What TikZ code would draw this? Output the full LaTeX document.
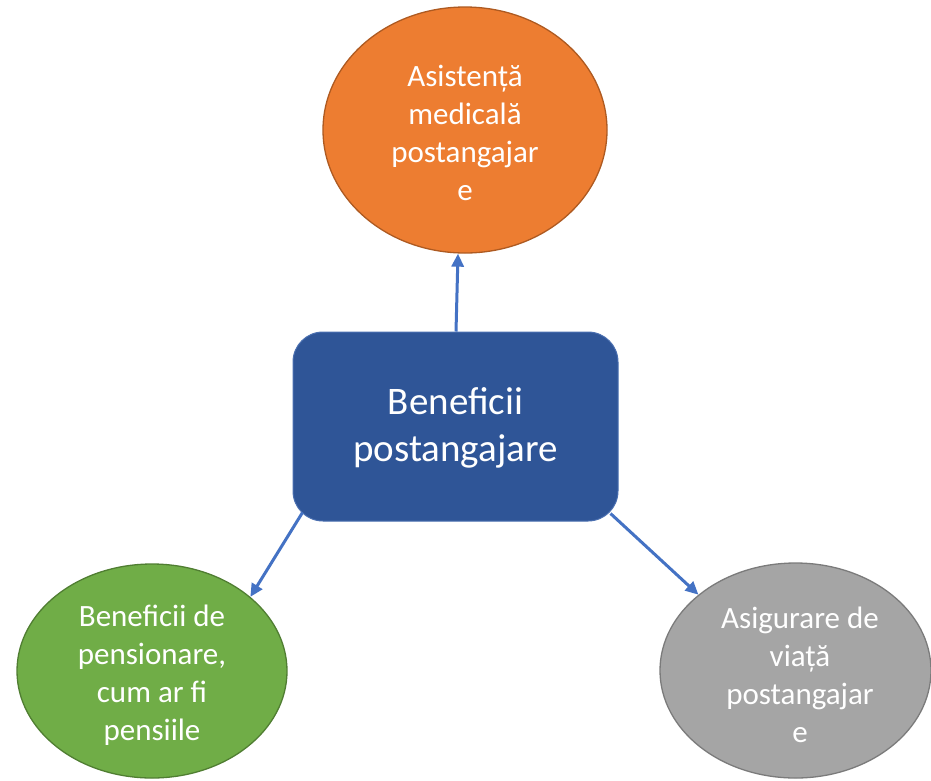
\documentclass[tikz,border=0pt]{standalone}
\usepackage{fontspec}
\setmainfont{Carlito}
\usetikzlibrary{shapes.geometric,arrows.meta}
\definecolor{orfill}{HTML}{ED7D31}
\definecolor{ordraw}{HTML}{AE5A21}
\definecolor{grfill}{HTML}{70AD47}
\definecolor{grdraw}{HTML}{507E32}
\definecolor{gyfill}{HTML}{A5A5A5}
\definecolor{gydraw}{HTML}{7B7B7B}
\definecolor{bxfill}{HTML}{2F5597}
\definecolor{bxdraw}{HTML}{4A6FB0}
\definecolor{arrcol}{HTML}{4472C4}
\tikzset{
  ell/.style={ellipse,inner sep=0pt,line width=1.3pt},
  etext/.style={text=white,align=center,inner sep=0pt,font=\fontsize{31}{38}\selectfont},
  ctext/.style={text=white,align=center,inner sep=0pt,font=\fontsize{39}{47}\selectfont},
  cbox/.style={rectangle,rounded corners=30pt,fill=bxfill,draw=bxdraw,line width=1pt,minimum width=325pt,minimum height=189pt,inner sep=0pt},
  arr/.style={draw=arrcol,line width=3pt,-{Triangle[length=13pt,width=12pt]},fill=arrcol}
}
\begin{document}
\begin{tikzpicture}[x=1pt,y=-1pt]
\useasboundingbox[fill=white] (0,0) rectangle (931,780);
\node[ell,fill=orfill,draw=ordraw,minimum width=284pt,minimum height=246pt] (o) at (465,130) {};
\node[etext] (ot) at (465,133) {Asistență\\medicală\\postangajar\\e};
\node[cbox] (c) at (455.5,426.5) {};
\node[ctext] (ct) at (455.5,428) {Beneficii\\postangajare};
\node[ell,fill=grfill,draw=grdraw,minimum width=270pt,minimum height=214pt] (g) at (152,671) {};
\node[etext] (gt) at (152,675) {Beneficii de\\pensionare,\\cum ar fi\\pensiile};
\node[ell,fill=gyfill,draw=gydraw,minimum width=271pt,minimum height=215pt] (y) at (795.5,670.5) {};
\node[etext] (yt) at (800,675) {Asigurare de\\viață\\postangajar\\e};
\draw[arr] ([xshift=0.5pt]c.north) -- ([xshift=-7pt]o.south);
\draw[arr] ([xshift=10pt,yshift=9pt]c.south west) -- (g.37.6);
\draw[arr] ([xshift=-8pt,yshift=8pt]c.south east) -- (y.142.5);
\end{tikzpicture}
\end{document}
